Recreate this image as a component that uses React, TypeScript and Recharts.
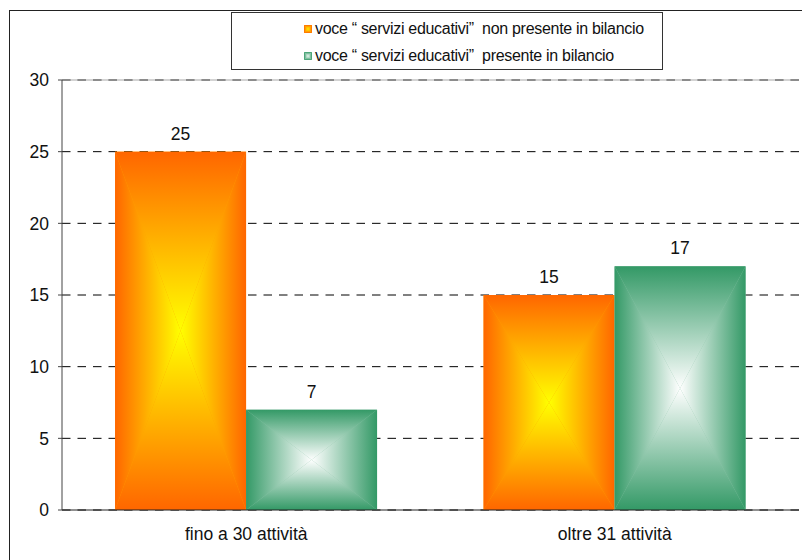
import React from 'react';
import {
  BarChart,
  Bar,
  XAxis,
  YAxis,
  CartesianGrid,
  LabelList,
  ReferenceLine
} from 'recharts';

const categories = ['fino a 30 attività', 'oltre 31 attività'];
const nonPresente = [25, 15];
const presente = [7, 17];
const yTicks = [0, 5, 10, 15, 20, 25, 30];
const seriesNames = [
  'voce “ servizi educativi”  non presente in bilancio',
  'voce “ servizi educativi”  presente in bilancio'
];

const data = categories.map((name, i) => ({
  name,
  nonPresente: nonPresente[i],
  presente: presente[i]
}));

const FONT = '"Liberation Sans", Arial, sans-serif';

// edge colour -> centre colour, like the "from centre" fill in office charts
const palette = {
  orange: { edge: '#ff6600', center: '#ffff00', mid: '#ffa000' },
  green: { edge: '#339966', center: '#ffffff', mid: '#8cc4a8' }
};

const GradientDefs = () => (
  <defs>
    {Object.entries(palette).map(([key, c]) => (
      <React.Fragment key={key}>
        <linearGradient id={`${key}-top`} x1="0" y1="0" x2="0" y2="1">
          <stop offset="0" stopColor={c.edge} />
          <stop offset="1" stopColor={c.center} />
        </linearGradient>
        <linearGradient id={`${key}-bottom`} x1="0" y1="1" x2="0" y2="0">
          <stop offset="0" stopColor={c.edge} />
          <stop offset="1" stopColor={c.center} />
        </linearGradient>
        <linearGradient id={`${key}-left`} x1="0" y1="0" x2="1" y2="0">
          <stop offset="0" stopColor={c.edge} />
          <stop offset="1" stopColor={c.center} />
        </linearGradient>
        <linearGradient id={`${key}-right`} x1="1" y1="0" x2="0" y2="0">
          <stop offset="0" stopColor={c.edge} />
          <stop offset="1" stopColor={c.center} />
        </linearGradient>
      </React.Fragment>
    ))}
  </defs>
);

// four triangles meeting in the middle, each shaded from its edge inwards
const CenterBox = ({ x, y, width, height, color }: any) => {
  if (!width || !height) return null;
  const cx = x + width / 2;
  const cy = y + height / 2;
  const r = x + width;
  const b = y + height;
  return (
    <g>
      <rect x={x} y={y} width={width} height={height} fill={palette[color].mid} />
      <polygon points={`${x},${y} ${r},${y} ${cx},${cy}`} fill={`url(#${color}-top)`} />
      <polygon points={`${x},${b} ${r},${b} ${cx},${cy}`} fill={`url(#${color}-bottom)`} />
      <polygon points={`${x},${y} ${x},${b} ${cx},${cy}`} fill={`url(#${color}-left)`} />
      <polygon points={`${r},${y} ${r},${b} ${cx},${cy}`} fill={`url(#${color}-right)`} />
    </g>
  );
};

const LegendBox = () => (
  <div
    style={{
      position: 'absolute',
      left: 231,
      top: 12,
      width: 432,
      height: 58,
      boxSizing: 'border-box',
      border: '1.5px solid #333',
      background: '#fff',
      fontFamily: FONT,
      fontSize: 16,
      letterSpacing: -0.3,
      color: '#111',
      paddingTop: 2
    }}
  >
    {seriesNames.map((label, i) => (
      <div
        key={label}
        style={{ display: 'flex', alignItems: 'center', height: 27, paddingLeft: 72 }}
      >
        <svg width={8} height={8} style={{ marginRight: 3 }}>
          <CenterBox x={0} y={0} width={8} height={8} color={i === 0 ? 'orange' : 'green'} />
        </svg>
        <span style={{ whiteSpace: 'pre' }}>{label}</span>
      </div>
    ))}
  </div>
);

export default function App() {
  return (
    <div style={{ position: 'relative', width: 802, height: 560, overflow: 'hidden', background: '#fff' }}>
      <style>{'body { margin: 0; }'}</style>
      <div
        style={{
          position: 'absolute',
          left: 9,
          top: 10,
          width: 900,
          height: 600,
          border: '1.5px solid #222'
        }}
      />
      <div style={{ position: 'absolute', left: 0, top: 0 }}>
        <BarChart
          width={802}
          height={560}
          data={data}
          margin={{ top: 80, right: 3, left: 0, bottom: 4 }}
          barCategoryGap="14.4%"
          barGap={0}
          style={{ fontFamily: FONT }}
        >
          <GradientDefs />
          <CartesianGrid
            xAxisId="cat"
            vertical={false}
            stroke="#000"
            strokeDasharray="8.5 7"
          />
          {/* thin axis carrying the tick marks on the category borders */}
          <XAxis
            xAxisId="base"
            type="number"
            domain={[0, 2]}
            ticks={[0, 1, 2]}
            tick={false}
            tickSize={5}
            height={6}
            axisLine={{ stroke: '#222' }}
            tickLine={{ stroke: '#222' }}
          />
          <XAxis
            xAxisId="cat"
            dataKey="name"
            axisLine={false}
            tickLine={false}
            tickSize={0}
            tickMargin={12}
            height={40}
            tick={{ fill: '#111', fontSize: 17.5, fontFamily: FONT }}
          />
          <YAxis
            domain={[0, 30]}
            ticks={yTicks}
            width={62}
            tickSize={4}
            tickMargin={9}
            axisLine={{ stroke: '#444' }}
            tickLine={{ stroke: '#444' }}
            tick={{ fill: '#111', fontSize: 17.5, fontFamily: FONT }}
          />
          <ReferenceLine xAxisId="cat" y={30} stroke="#c4c4c4" strokeWidth={1.5} />
          <ReferenceLine xAxisId="cat" y={30} stroke="#808080" strokeWidth={1.5} strokeDasharray="8.5 7" />
          <ReferenceLine xAxisId="base" x={2} stroke="#909090" strokeWidth={2} />
          <Bar
            xAxisId="cat"
            dataKey="nonPresente"
            name={seriesNames[0]}
            isAnimationActive={false}
            shape={(p: any) => <CenterBox {...p} color="orange" />}
          >
            <LabelList dataKey="nonPresente" position="top" offset={12} fill="#111" fontSize={17.5} fontFamily={FONT} />
          </Bar>
          <Bar
            xAxisId="cat"
            dataKey="presente"
            name={seriesNames[1]}
            isAnimationActive={false}
            shape={(p: any) => <CenterBox {...p} color="green" />}
          >
            <LabelList dataKey="presente" position="top" offset={12} fill="#111" fontSize={17.5} fontFamily={FONT} />
          </Bar>
        </BarChart>
      </div>
      <LegendBox />
    </div>
  );
}
